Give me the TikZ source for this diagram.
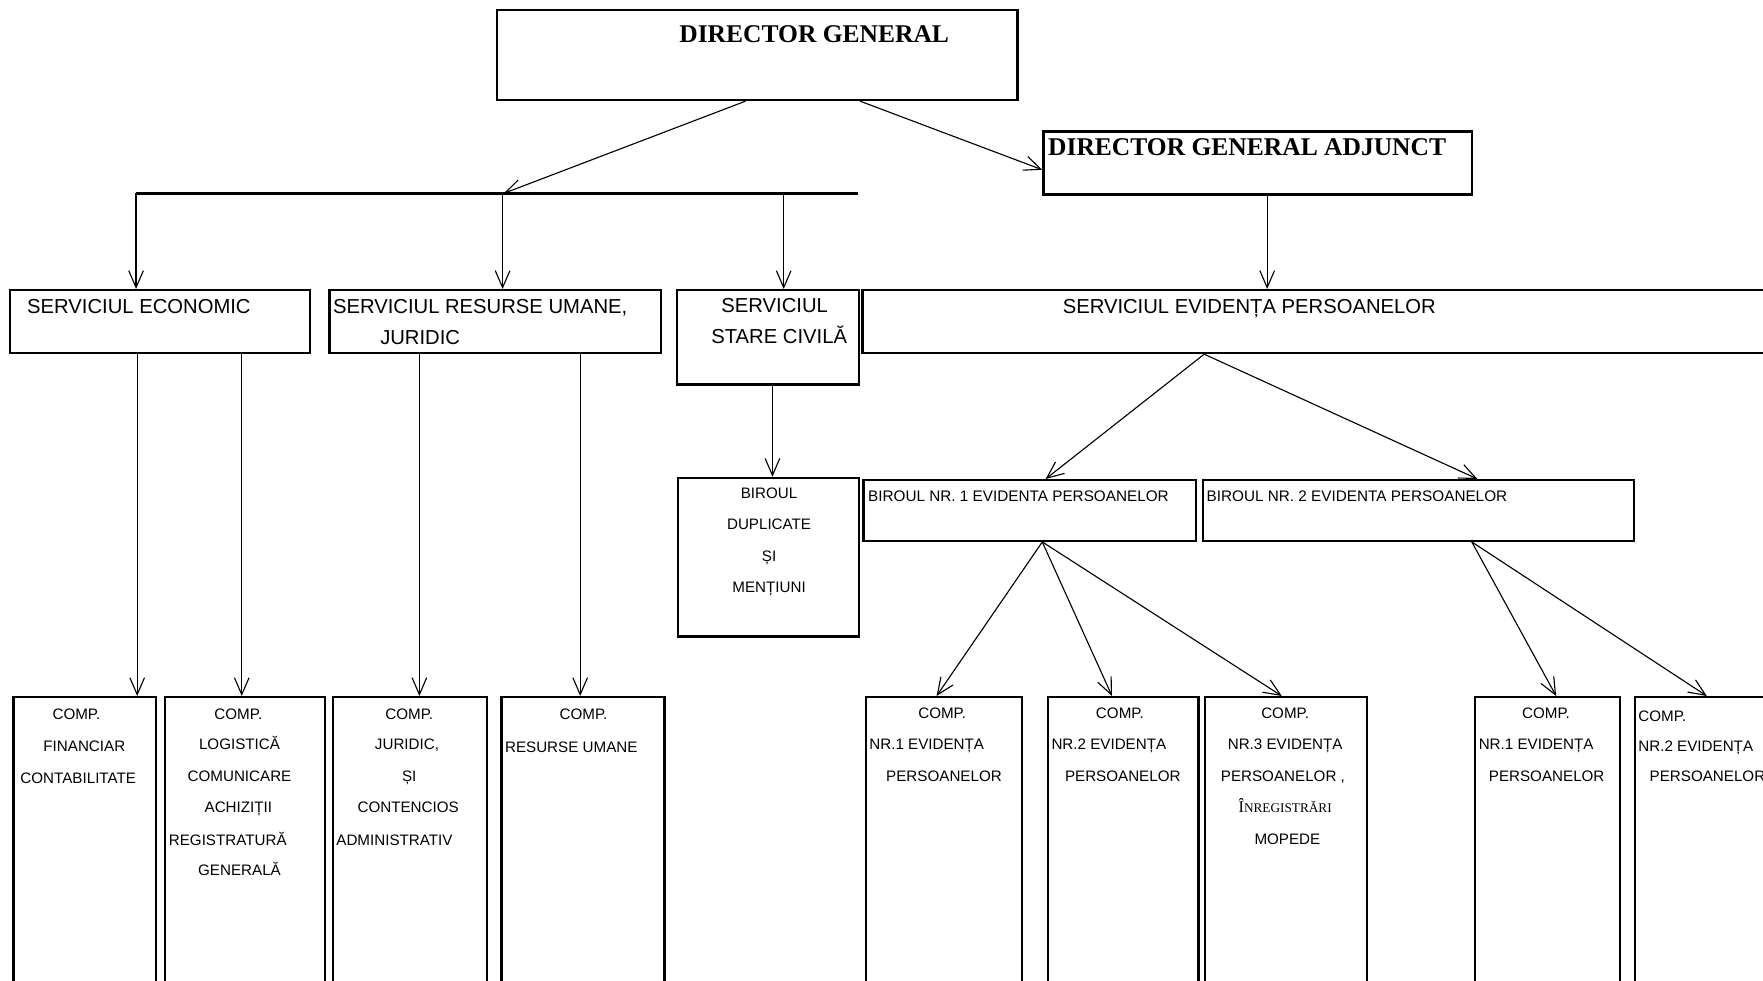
\documentclass[tikz,border=0pt]{standalone}
\usepackage{fontspec}
\setmainfont{Liberation Sans}
\newfontfamily\serifb{Liberation Serif}
\usetikzlibrary{arrows.meta,calc}
\tikzset{
  box/.style={draw, line width=2pt, inner sep=0pt, anchor=north west},
  conn/.style={line width=1pt, -{Straight Barb[length=15pt,width=13pt,line width=1pt]}},
  ttl/.style={inner sep=0pt, font=\serifb\bfseries\fontsize{22.7}{26}\selectfont},
  big/.style={inner sep=0pt, font=\fontsize{18}{20}\selectfont},
  mid/.style={inner sep=0pt, font=\fontsize{13.6}{16}\selectfont},
  sm/.style={inner sep=0pt, font=\fontsize{13.5}{15}\selectfont},
}
\begin{document}
\begin{tikzpicture}[x=1pt, y=-1pt]
\clip (0,0) rectangle (1568,872);
\fill[white] (0,0) rectangle (1568,872);

% ---------- boxes ----------
\node[box, minimum width=463pt, minimum height=80pt] (dg)  at (441,8) {};
\node[box, minimum width=381pt, minimum height=56pt] (dga) at (927,116) {};
\node[box, minimum width=267pt, minimum height=56pt] (se)  at (8,257) {};
\node[box, minimum width=295pt, minimum height=56pt] (sru) at (292,257) {};
\node[box, minimum width=162pt, minimum height=84pt] (ssc) at (601,257) {};
\node[box, minimum width=830pt, minimum height=56pt] (sep) at (766,257) {};
\node[box, minimum width=161pt, minimum height=141pt] (bdm) at (602,424) {};
\node[box, minimum width=296pt, minimum height=54pt] (b1)  at (767,426) {};
\node[box, minimum width=383pt, minimum height=54pt] (b2)  at (1069,426) {};
\node[box, minimum width=127pt, minimum height=270pt] (cfc) at (11,619) {};
\node[box, minimum width=142pt, minimum height=270pt] (cl)  at (146,619) {};
\node[box, minimum width=137pt, minimum height=270pt] (cj)  at (295,619) {};
\node[box, minimum width=145pt, minimum height=270pt] (cru) at (445,619) {};
\node[box, minimum width=139pt, minimum height=270pt] (c1)  at (769,619) {};
\node[box, minimum width=134pt, minimum height=270pt] (c2)  at (931,619) {};
\node[box, minimum width=144pt, minimum height=270pt] (c3)  at (1071,619) {};
\node[box, minimum width=129pt, minimum height=270pt] (c4)  at (1311,619) {};
\node[box, minimum width=160pt, minimum height=270pt] (c5)  at (1453,619) {};

% ---------- texts ----------
\node[ttl, anchor=base west] (dgt)  at (604,37.5) {DIRECTOR GENERAL};
\node[ttl, anchor=base west] (dgat) at (932,138.5) {DIRECTOR GENERAL ADJUNCT};

\node[big, anchor=base west] (set) at (24,278.5) {SERVICIUL ECONOMIC};
\node[big, anchor=base west] (srut1) at (296,278.5) {SERVICIUL RESURSE UMANE,};
\node[big, anchor=base west] (srut2) at (338,306.5) {JURIDIC};
\node[big, anchor=base] (ssct1) at (689,277.5) {SERVICIUL};
\node[big, anchor=base] (ssct2) at (693,305.5) {STARE CIVILĂ};
\node[big, anchor=base west] (sept) at (945,278.5) {SERVICIUL EVIDENȚA PERSOANELOR};

\node[sm, anchor=base] (bdmt1) at (684,443) {BIROUL};
\node[sm, anchor=base] (bdmt2) at (684,471) {DUPLICATE};
\node[sm, anchor=base] (bdmt3) at (684,499) {ȘI};
\node[sm, anchor=base] (bdmt4) at (684,527) {MENȚIUNI};

\node[mid, anchor=base west] (b1t) at (772,446) {BIROUL NR. 1 EVIDENTA PERSOANELOR};
\node[mid, anchor=base west] (b2t) at (1073,446) {BIROUL NR. 2 EVIDENTA PERSOANELOR};

\node[sm, anchor=base] (cfct1) at (68,640) {COMP.};
\node[sm, anchor=base] (cfct2) at (75,668) {FINANCIAR};
\node[sm, anchor=base west] (cfct3) at (18,697) {CONTABILITATE};

\node[sm, anchor=base] (clt1) at (212,640) {COMP.};
\node[sm, anchor=base] (clt2) at (213,667) {LOGISTICĂ};
\node[sm, anchor=base] (clt3) at (213,695) {COMUNICARE};
\node[sm, anchor=base] (clt4) at (212,723) {ACHIZIȚII};
\node[sm, anchor=base west] (clt5) at (150,752) {REGISTRATURĂ};
\node[sm, anchor=base] (clt6) at (213,779) {GENERALĂ};

\node[sm, anchor=base] (cjt1) at (364,640) {COMP.};
\node[sm, anchor=base] (cjt2) at (362,667) {JURIDIC,};
\node[sm, anchor=base] (cjt3) at (364,695) {ȘI};
\node[sm, anchor=base] (cjt4) at (363,723) {CONTENCIOS};
\node[sm, anchor=base west] (cjt5) at (299,752) {ADMINISTRATIV};

\node[sm, anchor=base] (crut1) at (519,640) {COMP.};
\node[sm, anchor=base west] (crut2) at (449,669) {RESURSE UMANE};

\node[sm, anchor=base] (c1t1) at (838,639) {COMP.};
\node[sm, anchor=base west] (c1t2) at (773,667) {NR.1 EVIDENȚA};
\node[sm, anchor=base west] (c1t3) at (788,695) {PERSOANELOR};

\node[sm, anchor=base] (c2t1) at (996,639) {COMP.};
\node[sm, anchor=base west] (c2t2) at (935,667) {NR.2 EVIDENȚA};
\node[sm, anchor=base west] (c2t3) at (947,695) {PERSOANELOR};

\node[sm, anchor=base] (c3t1) at (1143,639) {COMP.};
\node[sm, anchor=base] (c3t2) at (1143,667) {NR.3 EVIDENȚA};
\node[sm, anchor=base] (c3t3) at (1141,695) {PERSOANELOR ,};
\node[inner sep=0pt, anchor=base] (c3t4) at (1143,723) {\serifb\fontsize{14.5}{16}\selectfont Î\fontsize{11.8}{13}\selectfont NREGISTRĂRI};
\node[sm, anchor=base] (c3t5) at (1145,751) {MOPEDE};

\node[sm, anchor=base] (c4t1) at (1375,639) {COMP.};
\node[sm, anchor=base west] (c4t2) at (1315,667) {NR.1 EVIDENȚA};
\node[sm, anchor=base west] (c4t3) at (1324,695) {PERSOANELOR};

\node[sm, anchor=base west] (c5t1) at (1457,642) {COMP.};
\node[sm, anchor=base west] (c5t2) at (1457,668) {NR.2 EVIDENȚA};
\node[sm, anchor=base west] (c5t3) at (1467,695) {PERSOANELOR};

% ---------- connectors ----------
\coordinate (barL) at (121,172);
\coordinate (barR) at (763,172);
\coordinate (barH) at (448,172);
\coordinate (barM) at (447,172);
\coordinate (barS) at (697,172);
\draw[line width=2pt] (barL) -- (barR);

\draw[conn] (663,0 |- dg.south) -- (barH);
\draw[conn] (765,0 |- dg.south) -- ($(dga.west)+(0,6)$);
\draw[conn] (barL) -- (barL |- se.north);
\draw[conn] (barM) -- (barM |- sru.north);
\draw[conn] (barS) -- (barS |- ssc.north);
\draw[conn] (1127,0 |- dga.south) -- (1127,0 |- sep.north);

\draw[conn] (122,0 |- se.south) -- (122,0 |- cfc.north);
\draw[conn] (215,0 |- se.south) -- (215,0 |- cl.north);
\draw[conn] (373,0 |- sru.south) -- (373,0 |- cj.north);
\draw[conn] (516,0 |- sru.south) -- (516,0 |- cru.north);
\draw[conn] (687,0 |- ssc.south) -- (687,0 |- bdm.north);

\draw[conn] (1071,0 |- sep.south) -- (930,0 |- b1.north);
\draw[conn] (1071,0 |- sep.south) -- (1314,0 |- b2.north);

\draw[conn] (927,0 |- b1.south) -- (833,0 |- c1.north);
\draw[conn] (927,0 |- b1.south) -- (989,0 |- c2.north);
\draw[conn] (927,0 |- b1.south) -- (1140,0 |- c3.north);
\draw[conn] (1309,0 |- b2.south) -- (1384,0 |- c4.north);
\draw[conn] (1309,0 |- b2.south) -- (1518,0 |- c5.north);
\end{tikzpicture}
\end{document}
